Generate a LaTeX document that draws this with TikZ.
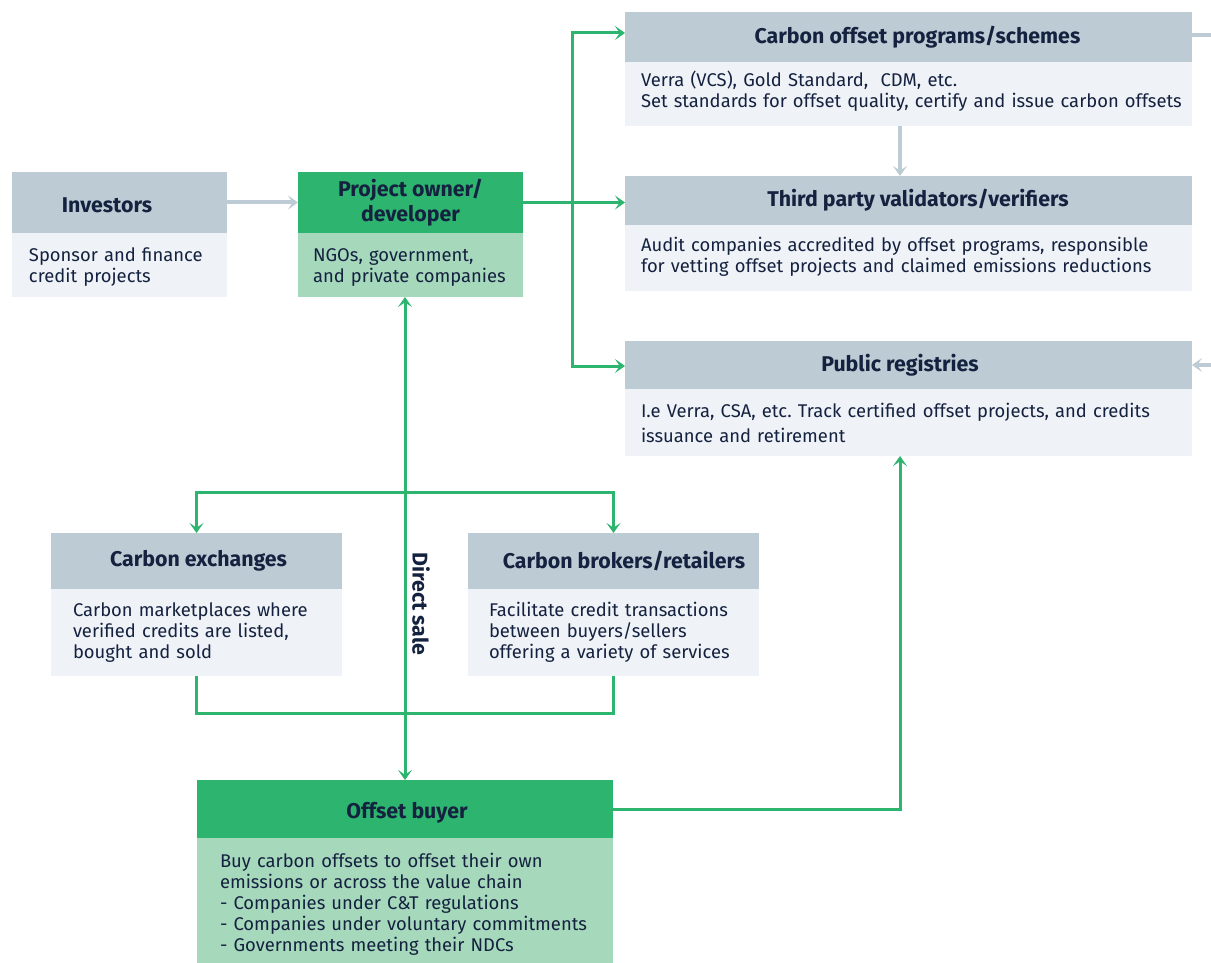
\documentclass[tikz,border=0pt]{standalone}
\usepackage{fontspec}
\setmainfont{Fira Sans}
\usetikzlibrary{arrows.meta}
\definecolor{hgreen}{HTML}{2DB570}
\definecolor{lgreen}{HTML}{A6D8BC}
\definecolor{hgray}{HTML}{BCCBD4}
\definecolor{lgray}{HTML}{EFF3F7}
\definecolor{navy}{HTML}{14213F}
\tikzset{
  box/.style={draw=none, inner sep=0pt, outer sep=0pt, anchor=north west, text=navy},
  hdr/.style={box, font=\fontsize{16}{18.5}\selectfont\bfseries, align=center},
  bodytxt/.style={box, font=\fontsize{13.8}{15.75}\selectfont\frenchspacing, align=left},
  tipA/.tip={Stealth[length=7.5pt, width=10.5pt, inset=3.5pt]},
  greenline/.style={draw=hgreen, line width=2.25pt},
  greenarrow/.style={greenline, -tipA},
  grayline/.style={draw=hgray, line width=3pt},
  grayarrow/.style={grayline, -tipA},
}
\newcommand{\lpad}[1]{\leftskip=#1\relax}
\begin{document}
\begin{tikzpicture}[x=0.75pt, y=-0.75pt]
\useasboundingbox (0,0) rectangle (1211,963);
% Investors
\node[hdr, fill=hgray, minimum width=161.25pt, minimum height=45.75pt] (invh) at (12,172) {\rule{0pt}{16pt}Investors\hspace*{18.75pt}};
\node[bodytxt, fill=lgray, minimum width=161.25pt, minimum height=48pt, text width=161.25pt] (invb) at (12,233) {\lpad{12.75pt}\rule{0pt}{13.5pt}Sponsor and finance\\credit projects\par};
% Project owner
\node[hdr, fill=hgreen, minimum width=168.75pt, minimum height=45.75pt] (ownh) at (298,172) {Project owner/\\developer};
\node[bodytxt, fill=lgreen, minimum width=168.75pt, minimum height=48pt, text width=168.75pt] (ownb) at (298,233) {\lpad{11.25pt}\rule{0pt}{14pt}NGOs, government,\\and private companies\par};
% Carbon offset programs
\node[hdr, fill=hgray, minimum width=425.25pt, minimum height=37.5pt] (progh) at (625,12) {\hspace*{13.5pt}Carbon offset programs/schemes};
\node[bodytxt, fill=lgray, minimum width=425.25pt, minimum height=48pt, text width=425.25pt] (progb) at (625,62) {\lpad{12pt}Verra (VCS), Gold Standard,\ \ CDM, etc.\\Set standards for offset quality, certify and issue carbon offsets\\[-9pt]\mbox{}\par};
% Third party
\node[hdr, fill=hgray, minimum width=425.25pt, minimum height=36.75pt] (thirdh) at (625,176) {\hspace*{14.25pt}Third party validators/verifiers};
\node[bodytxt, fill=lgray, minimum width=425.25pt, minimum height=49.5pt, text width=425.25pt] (thirdb) at (625,225) {\lpad{12pt}Audit companies accredited by offset programs, responsible\\for vetting offset projects and claimed emissions reductions\\[-10.5pt]\mbox{}\par};
% Public registries
\node[hdr, fill=hgray, minimum width=425.25pt, minimum height=36pt] (regh) at (625,341) {Public registries\hspace*{12.75pt}};
\node[bodytxt, fill=lgray, minimum width=425.25pt, minimum height=50.25pt, text width=425.25pt] (regb) at (625,389) {\lpad{12pt}I.e Verra, CSA, etc. Track certified offset projects, and credits\\[3pt]issuance and retirement\par};
% Carbon exchanges
\node[hdr, fill=hgray, minimum width=218.25pt, minimum height=42pt] (exh) at (51,533) {\hspace*{3pt}Carbon exchanges};
\node[bodytxt, fill=lgray, minimum width=218.25pt, minimum height=65.25pt, text width=218.25pt] (exb) at (51,589) {\lpad{16.5pt}Carbon marketplaces where\\verified credits are listed,\\bought and sold\par};
% Carbon brokers
\node[hdr, fill=hgray, minimum width=218.25pt, minimum height=42pt] (brh) at (468,533) {\hspace*{15.75pt}Carbon brokers/retailers};
\node[bodytxt, fill=lgray, minimum width=218.25pt, minimum height=65.25pt, text width=218.25pt] (brb) at (468,589) {\lpad{15.75pt}Facilitate credit transactions\\between buyers/sellers\\offering a variety of services\par};
% Offset buyer
\node[hdr, fill=hgreen, minimum width=312pt, minimum height=43.5pt] (buyh) at (197,780) {\rule{0pt}{18pt}\hspace*{3pt}Offset buyer};
\node[bodytxt, fill=lgreen, minimum width=312pt, minimum height=93.75pt, text width=312pt] (buyb) at (197,838) {\lpad{17.25pt}\mbox{}\\Buy carbon offsets to offset their own\\emissions or across the value chain\\- Companies under C\&T regulations\\- Companies under voluntary commitments\\- Governments meeting their NDCs\par};
% helper coordinates
\coordinate (sptop) at (572,33);
\coordinate (spbot) at (572,366);
\coordinate (progdown) at (900,126);
\coordinate (brtop) at (405,492);
\coordinate (brbot) at (405,713);
\coordinate (regup) at (900,456);
\coordinate (redgeA) at (1211,35);
\coordinate (redgeB) at (1211,365);
% connectors
\draw[grayarrow] (invh.east) -- (ownh.west);
\draw[greenarrow] (ownh.east) -- (ownh.east -| thirdh.west);
\draw[greenarrow] (spbot) -- (sptop) -- (sptop -| progh.west);
\draw[greenarrow] (sptop) -- (spbot) -- (spbot -| regh.west);
\draw[grayarrow] (progdown) -- (progdown |- thirdh.north);
\draw[grayline] (redgeA -| progh.east) -- (redgeA);
\draw[grayarrow] (redgeB) -- (redgeB -| regh.east);
\draw[greenline, tipA-tipA] (buyh.north |- ownb.south) -- (buyh.north);
\draw[greenline, tipA-tipA] (exh.north) -- (exh.north |- brtop) -- (brh.north |- brtop) -- (brh.north);
\draw[greenline] (exb.south) -- (exb.south |- brbot) -- (brb.south |- brbot) -- (brb.south);
\draw[greenarrow] (buyh.east) -- (buyh.east -| regup) -- (regup);
% direct sale label
\node[text=navy, font=\fontsize{16}{18}\selectfont\bfseries, rotate=-90, inner sep=0pt] (dsale) at (421,604) {Direct sale};
\end{tikzpicture}
\end{document}
